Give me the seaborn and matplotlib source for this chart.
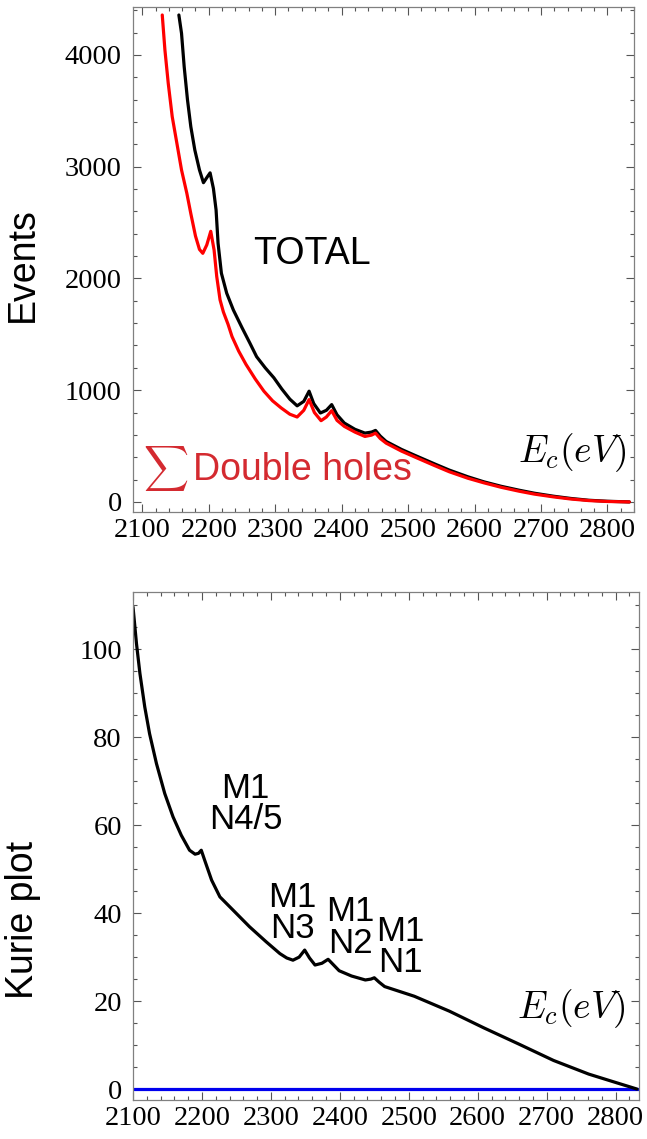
import matplotlib
matplotlib.use("Agg")
import matplotlib.pyplot as plt
import seaborn as sns
from matplotlib.ticker import MultipleLocator

# TOTAL spectrum (black)
total_e = [2155, 2159, 2163, 2168, 2173, 2179, 2186, 2192, 2198, 2202, 2207, 2211,
           2214, 2219, 2227, 2237, 2250, 2262, 2272, 2285, 2298, 2310, 2322, 2333,
           2343, 2351, 2358, 2368, 2377, 2385, 2393, 2404, 2420, 2435, 2445, 2451,
           2458, 2467, 2490, 2509, 2540, 2562, 2590, 2614, 2640, 2667, 2690, 2719,
           2745, 2772, 2800, 2833]
total_v = [4358, 4194, 3895, 3597, 3358, 3150, 2971, 2857, 2911, 2945, 2805, 2613,
           2315, 2047, 1868, 1718, 1560, 1420, 1300, 1200, 1111, 1010, 920, 860,
           900, 991, 880, 796, 820, 871, 780, 706, 650, 616, 625, 640,
           590, 541, 470, 420, 340, 285, 225, 180, 140, 105, 78, 51,
           31, 15, 6, 0]

# sum of double holes (red)
double_e = [2130, 2134, 2139, 2145, 2152, 2159, 2167, 2173, 2180, 2186, 2191, 2197,
            2203, 2208, 2212, 2217, 2222, 2229, 2235, 2245, 2256, 2270, 2283, 2296,
            2309, 2322, 2333, 2343, 2351, 2359, 2369, 2377, 2385, 2393, 2404, 2420,
            2435, 2445, 2451, 2458, 2467, 2490, 2509, 2540, 2562, 2590, 2614, 2640,
            2667, 2690, 2719, 2745, 2772, 2800, 2833]
double_v = [4358, 4045, 3747, 3448, 3210, 2971, 2762, 2580, 2380, 2260, 2225, 2300,
            2422, 2255, 2017, 1808, 1700, 1590, 1480, 1350, 1231, 1100, 991, 905,
            841, 785, 760, 820, 916, 800, 727, 760, 817, 730, 676, 625,
            586, 598, 616, 568, 526, 455, 405, 325, 270, 212, 171, 131,
            96, 70, 45, 26, 12, 4, 0]

# Kurie plot
kurie_e = [2100, 2105, 2110, 2117, 2124, 2134, 2146, 2158, 2170, 2182, 2190, 2195,
           2199, 2204, 2214, 2226, 2245, 2269, 2293, 2313, 2323, 2332, 2341, 2349,
           2356, 2364, 2374, 2383, 2391, 2399, 2417, 2437, 2445, 2450, 2457, 2465,
           2508, 2559, 2609, 2660, 2710, 2761, 2800, 2831]
kurie_v = [109.6, 101.3, 94.5, 86.9, 80.8, 74.0, 67.2, 61.9, 57.7, 54.3, 53.4, 53.6,
           54.3, 52.0, 47.5, 43.7, 40.7, 36.9, 33.5, 30.8, 29.8, 29.3, 30.0, 31.6,
           29.8, 28.2, 28.6, 29.5, 28.2, 26.9, 25.7, 24.8, 25.0, 25.3, 24.3, 23.3,
           21.1, 17.7, 13.9, 10.2, 6.5, 3.4, 1.5, 0]

baseline_e = [2100, 2834]
baseline_v = [0, 0]

peak_labels = ["M1\nN4/5", "M1\nN3", "M1\nN2", "M1\nN1"]
peak_e = [2263, 2331, 2415, 2488]
peak_v = [64.8, 40.0, 36.8, 32.3]

sns.set_theme(style="white")
plt.rcParams["font.family"] = ["Liberation Sans", "DejaVu Sans"]
plt.rcParams["mathtext.fontset"] = "cm"
plt.rcParams["text.color"] = "black"
plt.rcParams["axes.labelcolor"] = "black"

fig = plt.figure(figsize=(6.47, 11.39), dpi=100)
ax1 = fig.add_axes([0.2056, 0.5505, 0.7743, 0.4434])
ax2 = fig.add_axes([0.2056, 0.0342, 0.7821, 0.446])

sns.lineplot(x=total_e, y=total_v, ax=ax1, color="black", lw=2.3)
sns.lineplot(x=double_e, y=double_v, ax=ax1, color="#ff0000", lw=2.3)
sns.lineplot(x=baseline_e, y=baseline_v, ax=ax2, color="#0000ee", lw=2.3)
sns.lineplot(x=kurie_e, y=kurie_v, ax=ax2, color="black", lw=2.3)

ax1.set_xlim(2086, 2840)
ax1.set_ylim(-90, 4430)
ax2.set_xlim(2100, 2834)
ax2.set_ylim(-2.5, 113)

ax1.xaxis.set_major_locator(MultipleLocator(100))
ax1.xaxis.set_minor_locator(MultipleLocator(20))
ax1.yaxis.set_major_locator(MultipleLocator(1000))
ax1.yaxis.set_minor_locator(MultipleLocator(200))
ax2.xaxis.set_major_locator(MultipleLocator(100))
ax2.xaxis.set_minor_locator(MultipleLocator(20))
ax2.yaxis.set_major_locator(MultipleLocator(20))
ax2.yaxis.set_minor_locator(MultipleLocator(5))

for ax in (ax1, ax2):
    for s in ax.spines.values():
        s.set_color("#808080")
        s.set_linewidth(0.9)
    ax.tick_params(which="both", direction="in", top=True, right=True,
                   bottom=True, left=True, color="#555555", width=0.8,
                   labelcolor="black")
    ax.tick_params(which="major", length=5.5)
    ax.tick_params(which="minor", length=3)
    ax.tick_params(axis="y", pad=8)
    ax.tick_params(axis="x", pad=4)
    for lab in ax.get_xticklabels() + ax.get_yticklabels():
        lab.set_fontfamily("Liberation Serif")
        lab.set_fontsize(20.5)
    ax.set_xlabel("")

ax1.set_ylabel("Events", fontsize=27)
ax1.yaxis.set_label_coords(-0.184, 0.49)
ax2.set_ylabel("Kurie plot", fontsize=27)
ax2.yaxis.set_label_coords(-0.182, 0.354)

ax1.text(2355, 2219, "TOTAL", fontsize=27, ha="center", va="center")
ax1.text(2135, 296, r"$\sum$", fontsize=22.5, color="#d42a30", ha="center", va="center")
ax1.text(2176, 290, "Double holes", fontsize=27, color="#d42a30", ha="left", va="center")
ax1.text(2829, 440, r"$E_c(eV)$", fontsize=27, ha="right", va="center")
ax2.text(2814, 18.4, r"$E_c(eV)$", fontsize=27, ha="right", va="center")

for lab, e, v in zip(peak_labels, peak_e, peak_v):
    ax2.text(e, v, lab, fontsize=25, ha="center", va="center", linespacing=0.95)

fig.savefig("out.png", dpi=100)
